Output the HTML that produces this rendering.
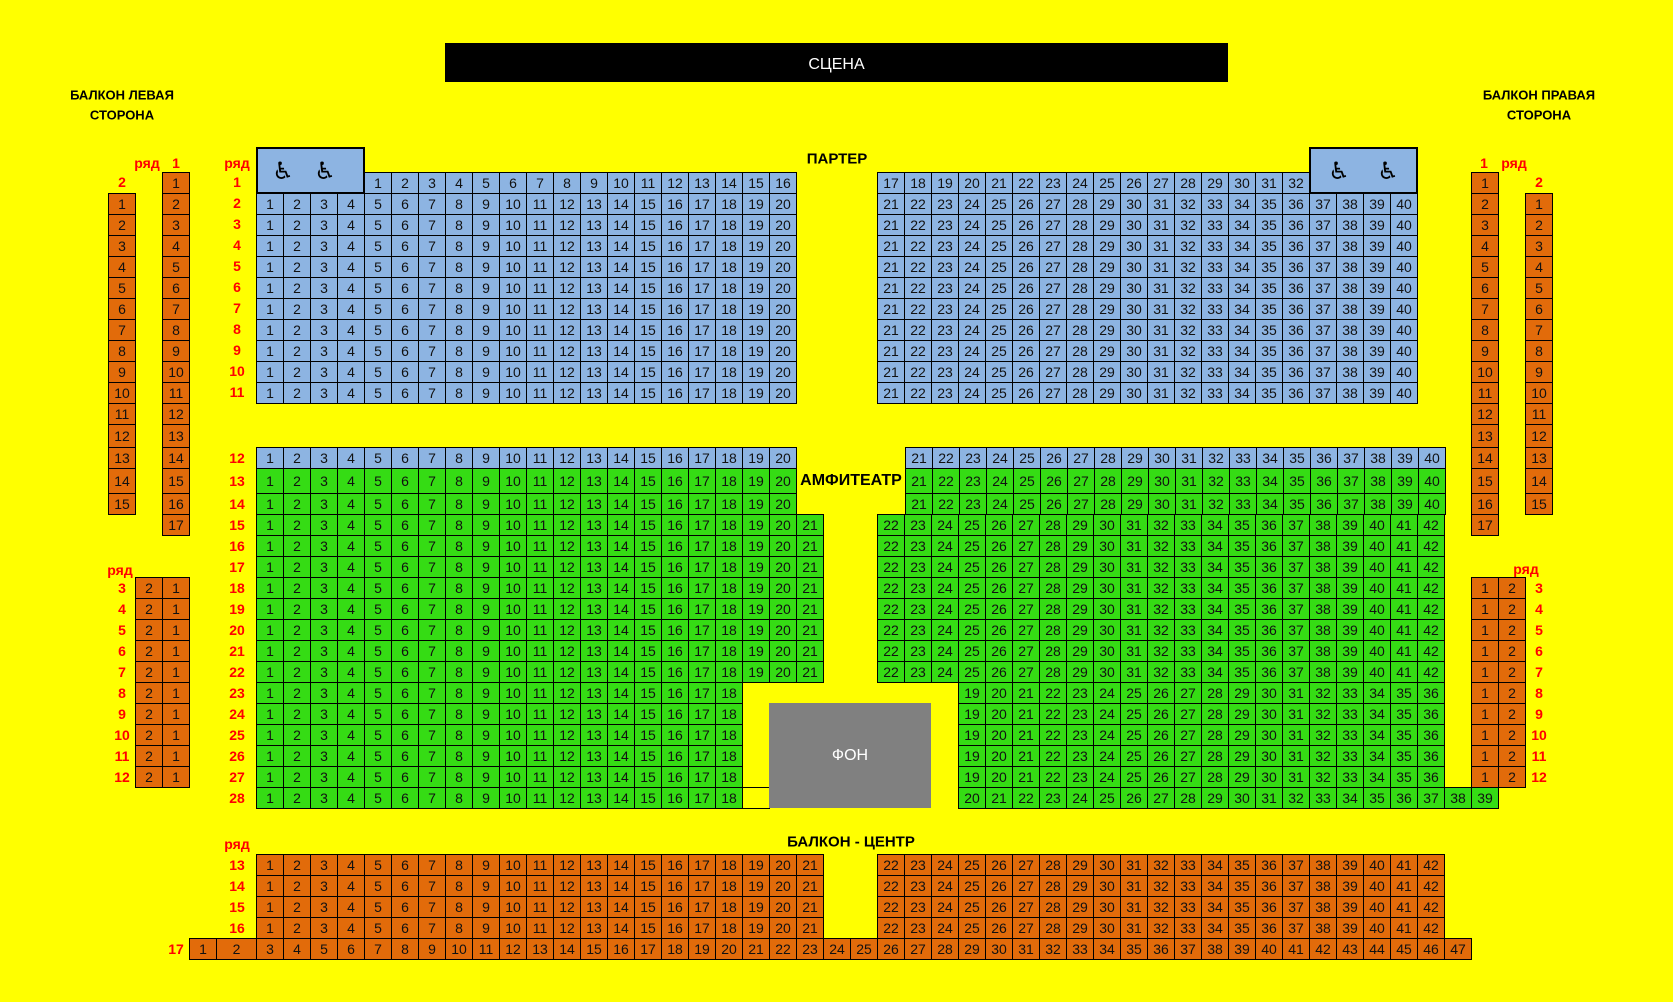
<!DOCTYPE html>
<html><head><meta charset="utf-8"><style>
body{margin:0;width:1673px;height:1002px;background:#ffff00;position:relative;overflow:hidden;font-family:"Liberation Sans",Arial,sans-serif}
.r{position:absolute;display:flex;height:22px}
.r i,.c i{display:flex;align-items:center;justify-content:center;width:28px;height:100%;margin-right:-1px;box-sizing:border-box;border:1px solid #000;font-style:normal;font-size:14px;color:#111}
.c{position:absolute;display:flex;flex-direction:column;width:28px}
.c i{height:22px;margin:0 0 -1px 0}
.c i.t{height:24px}.c i.u{height:26px}
.bl i{background:#8db4e2}.gr i{background:#35dc14}.or i{background:#e26b0a}
.l{position:absolute;transform:translate(-50%,-50%);color:#ff0000;font-weight:bold;font-size:14px;white-space:nowrap}
.h{position:absolute;transform:translate(-50%,-50%);color:#000;font-weight:bold;font-size:15px;white-space:nowrap}
.wc{position:absolute;background:#8db4e2;border:2px solid #000;box-sizing:border-box}
.wc span{position:absolute;top:50%;transform:translate(-50%,-50%);font-family:"DejaVu Sans",sans-serif;font-size:24px;color:#000;font-variant-emoji:text}
</style></head><body>
<div style="position:absolute;left:445px;top:43px;width:783px;height:39px;background:#000;color:#fff;font-size:16px;display:flex;align-items:center;justify-content:center;padding-top:4px;box-sizing:border-box">СЦЕНА</div>
<div class="h" style="left:122px;top:95px;font-size:13px">БАЛКОН ЛЕВАЯ</div>
<div class="h" style="left:122px;top:115px;font-size:13px">СТОРОНА</div>
<div class="h" style="left:1539px;top:95px;font-size:13px">БАЛКОН ПРАВАЯ</div>
<div class="h" style="left:1539px;top:115px;font-size:13px">СТОРОНА</div>
<div class="h" style="left:837px;top:159px">ПАРТЕР</div>
<div class="h" style="left:851px;top:481px;font-size:16px">АМФИТЕАТР</div>
<div class="h" style="left:851px;top:842px">БАЛКОН - ЦЕНТР</div>

<div class="wc" style="left:256px;top:147px;width:109px;height:47px"><span style="left:25px">♿&#xFE0E;</span><span style="left:67px">♿&#xFE0E;</span></div>
<div class="wc" style="left:1309px;top:147px;width:109px;height:47px"><span style="left:28px">♿&#xFE0E;</span><span style="left:77px">♿&#xFE0E;</span></div>

<!-- labels left -->
<div class="l" style="left:147px;top:163px">ряд</div><div class="l" style="left:176px;top:163px">1</div><div class="l" style="left:122px;top:182px">2</div>
<div class="l" style="left:237px;top:163px">ряд</div>
<div class="l" style="left:237px;top:182px">1</div><div class="l" style="left:237px;top:203px">2</div><div class="l" style="left:237px;top:224px">3</div><div class="l" style="left:237px;top:245px">4</div><div class="l" style="left:237px;top:266px">5</div><div class="l" style="left:237px;top:287px">6</div><div class="l" style="left:237px;top:308px">7</div><div class="l" style="left:237px;top:329px">8</div><div class="l" style="left:237px;top:350px">9</div><div class="l" style="left:237px;top:371px">10</div><div class="l" style="left:237px;top:392px">11</div>
<div class="l" style="left:237px;top:458px">12</div><div class="l" style="left:237px;top:481px">13</div><div class="l" style="left:237px;top:504px">14</div><div class="l" style="left:237px;top:525px">15</div><div class="l" style="left:237px;top:546px">16</div><div class="l" style="left:237px;top:567px">17</div><div class="l" style="left:237px;top:588px">18</div><div class="l" style="left:237px;top:609px">19</div><div class="l" style="left:237px;top:630px">20</div><div class="l" style="left:237px;top:651px">21</div><div class="l" style="left:237px;top:672px">22</div><div class="l" style="left:237px;top:693px">23</div><div class="l" style="left:237px;top:714px">24</div><div class="l" style="left:237px;top:735px">25</div><div class="l" style="left:237px;top:756px">26</div><div class="l" style="left:237px;top:777px">27</div><div class="l" style="left:237px;top:798px">28</div>
<div class="l" style="left:120px;top:570px">ряд</div>
<div class="l" style="left:122px;top:588px">3</div><div class="l" style="left:122px;top:609px">4</div><div class="l" style="left:122px;top:630px">5</div><div class="l" style="left:122px;top:651px">6</div><div class="l" style="left:122px;top:672px">7</div><div class="l" style="left:122px;top:693px">8</div><div class="l" style="left:122px;top:714px">9</div><div class="l" style="left:122px;top:735px">10</div><div class="l" style="left:122px;top:756px">11</div><div class="l" style="left:122px;top:777px">12</div>
<!-- labels right -->
<div class="l" style="left:1484px;top:163px">1</div><div class="l" style="left:1514px;top:163px">ряд</div><div class="l" style="left:1539px;top:182px">2</div>
<div class="l" style="left:1526px;top:569px">ряд</div>
<div class="l" style="left:1539px;top:588px">3</div><div class="l" style="left:1539px;top:609px">4</div><div class="l" style="left:1539px;top:630px">5</div><div class="l" style="left:1539px;top:651px">6</div><div class="l" style="left:1539px;top:672px">7</div><div class="l" style="left:1539px;top:693px">8</div><div class="l" style="left:1539px;top:714px">9</div><div class="l" style="left:1539px;top:735px">10</div><div class="l" style="left:1539px;top:756px">11</div><div class="l" style="left:1539px;top:777px">12</div>
<!-- balcony labels -->
<div class="l" style="left:237px;top:844px">ряд</div>
<div class="l" style="left:237px;top:865px">13</div><div class="l" style="left:237px;top:886px">14</div><div class="l" style="left:237px;top:907px">15</div><div class="l" style="left:237px;top:928px">16</div><div class="l" style="left:176px;top:949px">17</div>

<!-- side columns -->
<div class="c or" style="left:162px;top:172px"><i>1</i><i>2</i><i>3</i><i>4</i><i>5</i><i>6</i><i>7</i><i>8</i><i>9</i><i>10</i><i>11</i><i>12</i><i class="t">13</i><i>14</i><i class="u">15</i><i>16</i><i>17</i></div>
<div class="c or" style="left:108px;top:193px"><i>1</i><i>2</i><i>3</i><i>4</i><i>5</i><i>6</i><i>7</i><i>8</i><i>9</i><i>10</i><i>11</i><i class="t">12</i><i>13</i><i class="u">14</i><i>15</i></div>
<div class="c or" style="left:1471px;top:172px"><i>1</i><i>2</i><i>3</i><i>4</i><i>5</i><i>6</i><i>7</i><i>8</i><i>9</i><i>10</i><i>11</i><i>12</i><i class="t">13</i><i>14</i><i class="u">15</i><i>16</i><i>17</i></div>
<div class="c or" style="left:1525px;top:193px"><i>1</i><i>2</i><i>3</i><i>4</i><i>5</i><i>6</i><i>7</i><i>8</i><i>9</i><i>10</i><i>11</i><i class="t">12</i><i>13</i><i class="u">14</i><i>15</i></div>

<div class="r or" style="left:135px;top:577px"><i>2</i><i>1</i></div>
<div class="r or" style="left:135px;top:598px"><i>2</i><i>1</i></div>
<div class="r or" style="left:135px;top:619px"><i>2</i><i>1</i></div>
<div class="r or" style="left:135px;top:640px"><i>2</i><i>1</i></div>
<div class="r or" style="left:135px;top:661px"><i>2</i><i>1</i></div>
<div class="r or" style="left:135px;top:682px"><i>2</i><i>1</i></div>
<div class="r or" style="left:135px;top:703px"><i>2</i><i>1</i></div>
<div class="r or" style="left:135px;top:724px"><i>2</i><i>1</i></div>
<div class="r or" style="left:135px;top:745px"><i>2</i><i>1</i></div>
<div class="r or" style="left:135px;top:766px"><i>2</i><i>1</i></div>
<div class="r or" style="left:1471px;top:577px"><i>1</i><i>2</i></div>
<div class="r or" style="left:1471px;top:598px"><i>1</i><i>2</i></div>
<div class="r or" style="left:1471px;top:619px"><i>1</i><i>2</i></div>
<div class="r or" style="left:1471px;top:640px"><i>1</i><i>2</i></div>
<div class="r or" style="left:1471px;top:661px"><i>1</i><i>2</i></div>
<div class="r or" style="left:1471px;top:682px"><i>1</i><i>2</i></div>
<div class="r or" style="left:1471px;top:703px"><i>1</i><i>2</i></div>
<div class="r or" style="left:1471px;top:724px"><i>1</i><i>2</i></div>
<div class="r or" style="left:1471px;top:745px"><i>1</i><i>2</i></div>
<div class="r or" style="left:1471px;top:766px"><i>1</i><i>2</i></div>

<!-- partner -->
<div class="r bl" style="left:364px;top:172px"><i>1</i><i>2</i><i>3</i><i>4</i><i>5</i><i>6</i><i>7</i><i>8</i><i>9</i><i>10</i><i>11</i><i>12</i><i>13</i><i>14</i><i>15</i><i>16</i></div>
<div class="r bl" style="left:877px;top:172px"><i>17</i><i>18</i><i>19</i><i>20</i><i>21</i><i>22</i><i>23</i><i>24</i><i>25</i><i>26</i><i>27</i><i>28</i><i>29</i><i>30</i><i>31</i><i>32</i></div>
<div class="r bl" style="left:256px;top:193px"><i>1</i><i>2</i><i>3</i><i>4</i><i>5</i><i>6</i><i>7</i><i>8</i><i>9</i><i>10</i><i>11</i><i>12</i><i>13</i><i>14</i><i>15</i><i>16</i><i>17</i><i>18</i><i>19</i><i>20</i></div>
<div class="r bl" style="left:256px;top:214px"><i>1</i><i>2</i><i>3</i><i>4</i><i>5</i><i>6</i><i>7</i><i>8</i><i>9</i><i>10</i><i>11</i><i>12</i><i>13</i><i>14</i><i>15</i><i>16</i><i>17</i><i>18</i><i>19</i><i>20</i></div>
<div class="r bl" style="left:256px;top:235px"><i>1</i><i>2</i><i>3</i><i>4</i><i>5</i><i>6</i><i>7</i><i>8</i><i>9</i><i>10</i><i>11</i><i>12</i><i>13</i><i>14</i><i>15</i><i>16</i><i>17</i><i>18</i><i>19</i><i>20</i></div>
<div class="r bl" style="left:256px;top:256px"><i>1</i><i>2</i><i>3</i><i>4</i><i>5</i><i>6</i><i>7</i><i>8</i><i>9</i><i>10</i><i>11</i><i>12</i><i>13</i><i>14</i><i>15</i><i>16</i><i>17</i><i>18</i><i>19</i><i>20</i></div>
<div class="r bl" style="left:256px;top:277px"><i>1</i><i>2</i><i>3</i><i>4</i><i>5</i><i>6</i><i>7</i><i>8</i><i>9</i><i>10</i><i>11</i><i>12</i><i>13</i><i>14</i><i>15</i><i>16</i><i>17</i><i>18</i><i>19</i><i>20</i></div>
<div class="r bl" style="left:256px;top:298px"><i>1</i><i>2</i><i>3</i><i>4</i><i>5</i><i>6</i><i>7</i><i>8</i><i>9</i><i>10</i><i>11</i><i>12</i><i>13</i><i>14</i><i>15</i><i>16</i><i>17</i><i>18</i><i>19</i><i>20</i></div>
<div class="r bl" style="left:256px;top:319px"><i>1</i><i>2</i><i>3</i><i>4</i><i>5</i><i>6</i><i>7</i><i>8</i><i>9</i><i>10</i><i>11</i><i>12</i><i>13</i><i>14</i><i>15</i><i>16</i><i>17</i><i>18</i><i>19</i><i>20</i></div>
<div class="r bl" style="left:256px;top:340px"><i>1</i><i>2</i><i>3</i><i>4</i><i>5</i><i>6</i><i>7</i><i>8</i><i>9</i><i>10</i><i>11</i><i>12</i><i>13</i><i>14</i><i>15</i><i>16</i><i>17</i><i>18</i><i>19</i><i>20</i></div>
<div class="r bl" style="left:256px;top:361px"><i>1</i><i>2</i><i>3</i><i>4</i><i>5</i><i>6</i><i>7</i><i>8</i><i>9</i><i>10</i><i>11</i><i>12</i><i>13</i><i>14</i><i>15</i><i>16</i><i>17</i><i>18</i><i>19</i><i>20</i></div>
<div class="r bl" style="left:256px;top:382px"><i>1</i><i>2</i><i>3</i><i>4</i><i>5</i><i>6</i><i>7</i><i>8</i><i>9</i><i>10</i><i>11</i><i>12</i><i>13</i><i>14</i><i>15</i><i>16</i><i>17</i><i>18</i><i>19</i><i>20</i></div>
<div class="r bl" style="left:877px;top:193px"><i>21</i><i>22</i><i>23</i><i>24</i><i>25</i><i>26</i><i>27</i><i>28</i><i>29</i><i>30</i><i>31</i><i>32</i><i>33</i><i>34</i><i>35</i><i>36</i><i>37</i><i>38</i><i>39</i><i>40</i></div>
<div class="r bl" style="left:877px;top:214px"><i>21</i><i>22</i><i>23</i><i>24</i><i>25</i><i>26</i><i>27</i><i>28</i><i>29</i><i>30</i><i>31</i><i>32</i><i>33</i><i>34</i><i>35</i><i>36</i><i>37</i><i>38</i><i>39</i><i>40</i></div>
<div class="r bl" style="left:877px;top:235px"><i>21</i><i>22</i><i>23</i><i>24</i><i>25</i><i>26</i><i>27</i><i>28</i><i>29</i><i>30</i><i>31</i><i>32</i><i>33</i><i>34</i><i>35</i><i>36</i><i>37</i><i>38</i><i>39</i><i>40</i></div>
<div class="r bl" style="left:877px;top:256px"><i>21</i><i>22</i><i>23</i><i>24</i><i>25</i><i>26</i><i>27</i><i>28</i><i>29</i><i>30</i><i>31</i><i>32</i><i>33</i><i>34</i><i>35</i><i>36</i><i>37</i><i>38</i><i>39</i><i>40</i></div>
<div class="r bl" style="left:877px;top:277px"><i>21</i><i>22</i><i>23</i><i>24</i><i>25</i><i>26</i><i>27</i><i>28</i><i>29</i><i>30</i><i>31</i><i>32</i><i>33</i><i>34</i><i>35</i><i>36</i><i>37</i><i>38</i><i>39</i><i>40</i></div>
<div class="r bl" style="left:877px;top:298px"><i>21</i><i>22</i><i>23</i><i>24</i><i>25</i><i>26</i><i>27</i><i>28</i><i>29</i><i>30</i><i>31</i><i>32</i><i>33</i><i>34</i><i>35</i><i>36</i><i>37</i><i>38</i><i>39</i><i>40</i></div>
<div class="r bl" style="left:877px;top:319px"><i>21</i><i>22</i><i>23</i><i>24</i><i>25</i><i>26</i><i>27</i><i>28</i><i>29</i><i>30</i><i>31</i><i>32</i><i>33</i><i>34</i><i>35</i><i>36</i><i>37</i><i>38</i><i>39</i><i>40</i></div>
<div class="r bl" style="left:877px;top:340px"><i>21</i><i>22</i><i>23</i><i>24</i><i>25</i><i>26</i><i>27</i><i>28</i><i>29</i><i>30</i><i>31</i><i>32</i><i>33</i><i>34</i><i>35</i><i>36</i><i>37</i><i>38</i><i>39</i><i>40</i></div>
<div class="r bl" style="left:877px;top:361px"><i>21</i><i>22</i><i>23</i><i>24</i><i>25</i><i>26</i><i>27</i><i>28</i><i>29</i><i>30</i><i>31</i><i>32</i><i>33</i><i>34</i><i>35</i><i>36</i><i>37</i><i>38</i><i>39</i><i>40</i></div>
<div class="r bl" style="left:877px;top:382px"><i>21</i><i>22</i><i>23</i><i>24</i><i>25</i><i>26</i><i>27</i><i>28</i><i>29</i><i>30</i><i>31</i><i>32</i><i>33</i><i>34</i><i>35</i><i>36</i><i>37</i><i>38</i><i>39</i><i>40</i></div>

<!-- amphitheatre -->
<div class="r bl" style="left:256px;top:447px"><i>1</i><i>2</i><i>3</i><i>4</i><i>5</i><i>6</i><i>7</i><i>8</i><i>9</i><i>10</i><i>11</i><i>12</i><i>13</i><i>14</i><i>15</i><i>16</i><i>17</i><i>18</i><i>19</i><i>20</i></div>
<div class="r bl" style="left:905px;top:447px"><i>21</i><i>22</i><i>23</i><i>24</i><i>25</i><i>26</i><i>27</i><i>28</i><i>29</i><i>30</i><i>31</i><i>32</i><i>33</i><i>34</i><i>35</i><i>36</i><i>37</i><i>38</i><i>39</i><i>40</i></div>
<div class="r gr" style="left:256px;top:468px;height:26px"><i>1</i><i>2</i><i>3</i><i>4</i><i>5</i><i>6</i><i>7</i><i>8</i><i>9</i><i>10</i><i>11</i><i>12</i><i>13</i><i>14</i><i>15</i><i>16</i><i>17</i><i>18</i><i>19</i><i>20</i></div>
<div class="r gr" style="left:905px;top:468px;height:26px"><i>21</i><i>22</i><i>23</i><i>24</i><i>25</i><i>26</i><i>27</i><i>28</i><i>29</i><i>30</i><i>31</i><i>32</i><i>33</i><i>34</i><i>35</i><i>36</i><i>37</i><i>38</i><i>39</i><i>40</i></div>
<div class="r gr" style="left:256px;top:493px"><i>1</i><i>2</i><i>3</i><i>4</i><i>5</i><i>6</i><i>7</i><i>8</i><i>9</i><i>10</i><i>11</i><i>12</i><i>13</i><i>14</i><i>15</i><i>16</i><i>17</i><i>18</i><i>19</i><i>20</i></div>
<div class="r gr" style="left:905px;top:493px"><i>21</i><i>22</i><i>23</i><i>24</i><i>25</i><i>26</i><i>27</i><i>28</i><i>29</i><i>30</i><i>31</i><i>32</i><i>33</i><i>34</i><i>35</i><i>36</i><i>37</i><i>38</i><i>39</i><i>40</i></div>
<div class="r gr" style="left:256px;top:514px"><i>1</i><i>2</i><i>3</i><i>4</i><i>5</i><i>6</i><i>7</i><i>8</i><i>9</i><i>10</i><i>11</i><i>12</i><i>13</i><i>14</i><i>15</i><i>16</i><i>17</i><i>18</i><i>19</i><i>20</i><i>21</i></div>
<div class="r gr" style="left:256px;top:535px"><i>1</i><i>2</i><i>3</i><i>4</i><i>5</i><i>6</i><i>7</i><i>8</i><i>9</i><i>10</i><i>11</i><i>12</i><i>13</i><i>14</i><i>15</i><i>16</i><i>17</i><i>18</i><i>19</i><i>20</i><i>21</i></div>
<div class="r gr" style="left:256px;top:556px"><i>1</i><i>2</i><i>3</i><i>4</i><i>5</i><i>6</i><i>7</i><i>8</i><i>9</i><i>10</i><i>11</i><i>12</i><i>13</i><i>14</i><i>15</i><i>16</i><i>17</i><i>18</i><i>19</i><i>20</i><i>21</i></div>
<div class="r gr" style="left:256px;top:577px"><i>1</i><i>2</i><i>3</i><i>4</i><i>5</i><i>6</i><i>7</i><i>8</i><i>9</i><i>10</i><i>11</i><i>12</i><i>13</i><i>14</i><i>15</i><i>16</i><i>17</i><i>18</i><i>19</i><i>20</i><i>21</i></div>
<div class="r gr" style="left:256px;top:598px"><i>1</i><i>2</i><i>3</i><i>4</i><i>5</i><i>6</i><i>7</i><i>8</i><i>9</i><i>10</i><i>11</i><i>12</i><i>13</i><i>14</i><i>15</i><i>16</i><i>17</i><i>18</i><i>19</i><i>20</i><i>21</i></div>
<div class="r gr" style="left:256px;top:619px"><i>1</i><i>2</i><i>3</i><i>4</i><i>5</i><i>6</i><i>7</i><i>8</i><i>9</i><i>10</i><i>11</i><i>12</i><i>13</i><i>14</i><i>15</i><i>16</i><i>17</i><i>18</i><i>19</i><i>20</i><i>21</i></div>
<div class="r gr" style="left:256px;top:640px"><i>1</i><i>2</i><i>3</i><i>4</i><i>5</i><i>6</i><i>7</i><i>8</i><i>9</i><i>10</i><i>11</i><i>12</i><i>13</i><i>14</i><i>15</i><i>16</i><i>17</i><i>18</i><i>19</i><i>20</i><i>21</i></div>
<div class="r gr" style="left:256px;top:661px"><i>1</i><i>2</i><i>3</i><i>4</i><i>5</i><i>6</i><i>7</i><i>8</i><i>9</i><i>10</i><i>11</i><i>12</i><i>13</i><i>14</i><i>15</i><i>16</i><i>17</i><i>18</i><i>19</i><i>20</i><i>21</i></div>
<div class="r gr" style="left:877px;top:514px"><i>22</i><i>23</i><i>24</i><i>25</i><i>26</i><i>27</i><i>28</i><i>29</i><i>30</i><i>31</i><i>32</i><i>33</i><i>34</i><i>35</i><i>36</i><i>37</i><i>38</i><i>39</i><i>40</i><i>41</i><i>42</i></div>
<div class="r gr" style="left:877px;top:535px"><i>22</i><i>23</i><i>24</i><i>25</i><i>26</i><i>27</i><i>28</i><i>29</i><i>30</i><i>31</i><i>32</i><i>33</i><i>34</i><i>35</i><i>36</i><i>37</i><i>38</i><i>39</i><i>40</i><i>41</i><i>42</i></div>
<div class="r gr" style="left:877px;top:556px"><i>22</i><i>23</i><i>24</i><i>25</i><i>26</i><i>27</i><i>28</i><i>29</i><i>30</i><i>31</i><i>32</i><i>33</i><i>34</i><i>35</i><i>36</i><i>37</i><i>38</i><i>39</i><i>40</i><i>41</i><i>42</i></div>
<div class="r gr" style="left:877px;top:577px"><i>22</i><i>23</i><i>24</i><i>25</i><i>26</i><i>27</i><i>28</i><i>29</i><i>30</i><i>31</i><i>32</i><i>33</i><i>34</i><i>35</i><i>36</i><i>37</i><i>38</i><i>39</i><i>40</i><i>41</i><i>42</i></div>
<div class="r gr" style="left:877px;top:598px"><i>22</i><i>23</i><i>24</i><i>25</i><i>26</i><i>27</i><i>28</i><i>29</i><i>30</i><i>31</i><i>32</i><i>33</i><i>34</i><i>35</i><i>36</i><i>37</i><i>38</i><i>39</i><i>40</i><i>41</i><i>42</i></div>
<div class="r gr" style="left:877px;top:619px"><i>22</i><i>23</i><i>24</i><i>25</i><i>26</i><i>27</i><i>28</i><i>29</i><i>30</i><i>31</i><i>32</i><i>33</i><i>34</i><i>35</i><i>36</i><i>37</i><i>38</i><i>39</i><i>40</i><i>41</i><i>42</i></div>
<div class="r gr" style="left:877px;top:640px"><i>22</i><i>23</i><i>24</i><i>25</i><i>26</i><i>27</i><i>28</i><i>29</i><i>30</i><i>31</i><i>32</i><i>33</i><i>34</i><i>35</i><i>36</i><i>37</i><i>38</i><i>39</i><i>40</i><i>41</i><i>42</i></div>
<div class="r gr" style="left:877px;top:661px"><i>22</i><i>23</i><i>24</i><i>25</i><i>26</i><i>27</i><i>28</i><i>29</i><i>30</i><i>31</i><i>32</i><i>33</i><i>34</i><i>35</i><i>36</i><i>37</i><i>38</i><i>39</i><i>40</i><i>41</i><i>42</i></div>
<div class="r gr" style="left:256px;top:682px"><i>1</i><i>2</i><i>3</i><i>4</i><i>5</i><i>6</i><i>7</i><i>8</i><i>9</i><i>10</i><i>11</i><i>12</i><i>13</i><i>14</i><i>15</i><i>16</i><i>17</i><i>18</i></div>
<div class="r gr" style="left:256px;top:703px"><i>1</i><i>2</i><i>3</i><i>4</i><i>5</i><i>6</i><i>7</i><i>8</i><i>9</i><i>10</i><i>11</i><i>12</i><i>13</i><i>14</i><i>15</i><i>16</i><i>17</i><i>18</i></div>
<div class="r gr" style="left:256px;top:724px"><i>1</i><i>2</i><i>3</i><i>4</i><i>5</i><i>6</i><i>7</i><i>8</i><i>9</i><i>10</i><i>11</i><i>12</i><i>13</i><i>14</i><i>15</i><i>16</i><i>17</i><i>18</i></div>
<div class="r gr" style="left:256px;top:745px"><i>1</i><i>2</i><i>3</i><i>4</i><i>5</i><i>6</i><i>7</i><i>8</i><i>9</i><i>10</i><i>11</i><i>12</i><i>13</i><i>14</i><i>15</i><i>16</i><i>17</i><i>18</i></div>
<div class="r gr" style="left:256px;top:766px"><i>1</i><i>2</i><i>3</i><i>4</i><i>5</i><i>6</i><i>7</i><i>8</i><i>9</i><i>10</i><i>11</i><i>12</i><i>13</i><i>14</i><i>15</i><i>16</i><i>17</i><i>18</i></div>
<div class="r gr" style="left:256px;top:787px"><i>1</i><i>2</i><i>3</i><i>4</i><i>5</i><i>6</i><i>7</i><i>8</i><i>9</i><i>10</i><i>11</i><i>12</i><i>13</i><i>14</i><i>15</i><i>16</i><i>17</i><i>18</i><i style="background:#ffff00"></i></div>
<div class="r gr" style="left:958px;top:682px"><i>19</i><i>20</i><i>21</i><i>22</i><i>23</i><i>24</i><i>25</i><i>26</i><i>27</i><i>28</i><i>29</i><i>30</i><i>31</i><i>32</i><i>33</i><i>34</i><i>35</i><i>36</i></div>
<div class="r gr" style="left:958px;top:703px"><i>19</i><i>20</i><i>21</i><i>22</i><i>23</i><i>24</i><i>25</i><i>26</i><i>27</i><i>28</i><i>29</i><i>30</i><i>31</i><i>32</i><i>33</i><i>34</i><i>35</i><i>36</i></div>
<div class="r gr" style="left:958px;top:724px"><i>19</i><i>20</i><i>21</i><i>22</i><i>23</i><i>24</i><i>25</i><i>26</i><i>27</i><i>28</i><i>29</i><i>30</i><i>31</i><i>32</i><i>33</i><i>34</i><i>35</i><i>36</i></div>
<div class="r gr" style="left:958px;top:745px"><i>19</i><i>20</i><i>21</i><i>22</i><i>23</i><i>24</i><i>25</i><i>26</i><i>27</i><i>28</i><i>29</i><i>30</i><i>31</i><i>32</i><i>33</i><i>34</i><i>35</i><i>36</i></div>
<div class="r gr" style="left:958px;top:766px"><i>19</i><i>20</i><i>21</i><i>22</i><i>23</i><i>24</i><i>25</i><i>26</i><i>27</i><i>28</i><i>29</i><i>30</i><i>31</i><i>32</i><i>33</i><i>34</i><i>35</i><i>36</i></div>
<div class="r gr" style="left:958px;top:787px"><i>20</i><i>21</i><i>22</i><i>23</i><i>24</i><i>25</i><i>26</i><i>27</i><i>28</i><i>29</i><i>30</i><i>31</i><i>32</i><i>33</i><i>34</i><i>35</i><i>36</i><i>37</i><i>38</i><i>39</i></div>
<div style="position:absolute;left:769px;top:703px;width:162px;height:105px;background:#808080;color:#fff;font-size:16px;display:flex;align-items:center;justify-content:center">ФОН</div>

<!-- balcony centre -->
<div class="r or" style="left:256px;top:854px"><i>1</i><i>2</i><i>3</i><i>4</i><i>5</i><i>6</i><i>7</i><i>8</i><i>9</i><i>10</i><i>11</i><i>12</i><i>13</i><i>14</i><i>15</i><i>16</i><i>17</i><i>18</i><i>19</i><i>20</i><i>21</i></div>
<div class="r or" style="left:256px;top:875px"><i>1</i><i>2</i><i>3</i><i>4</i><i>5</i><i>6</i><i>7</i><i>8</i><i>9</i><i>10</i><i>11</i><i>12</i><i>13</i><i>14</i><i>15</i><i>16</i><i>17</i><i>18</i><i>19</i><i>20</i><i>21</i></div>
<div class="r or" style="left:256px;top:896px"><i>1</i><i>2</i><i>3</i><i>4</i><i>5</i><i>6</i><i>7</i><i>8</i><i>9</i><i>10</i><i>11</i><i>12</i><i>13</i><i>14</i><i>15</i><i>16</i><i>17</i><i>18</i><i>19</i><i>20</i><i>21</i></div>
<div class="r or" style="left:256px;top:917px"><i>1</i><i>2</i><i>3</i><i>4</i><i>5</i><i>6</i><i>7</i><i>8</i><i>9</i><i>10</i><i>11</i><i>12</i><i>13</i><i>14</i><i>15</i><i>16</i><i>17</i><i>18</i><i>19</i><i>20</i><i>21</i></div>
<div class="r or" style="left:877px;top:854px"><i>22</i><i>23</i><i>24</i><i>25</i><i>26</i><i>27</i><i>28</i><i>29</i><i>30</i><i>31</i><i>32</i><i>33</i><i>34</i><i>35</i><i>36</i><i>37</i><i>38</i><i>39</i><i>40</i><i>41</i><i>42</i></div>
<div class="r or" style="left:877px;top:875px"><i>22</i><i>23</i><i>24</i><i>25</i><i>26</i><i>27</i><i>28</i><i>29</i><i>30</i><i>31</i><i>32</i><i>33</i><i>34</i><i>35</i><i>36</i><i>37</i><i>38</i><i>39</i><i>40</i><i>41</i><i>42</i></div>
<div class="r or" style="left:877px;top:896px"><i>22</i><i>23</i><i>24</i><i>25</i><i>26</i><i>27</i><i>28</i><i>29</i><i>30</i><i>31</i><i>32</i><i>33</i><i>34</i><i>35</i><i>36</i><i>37</i><i>38</i><i>39</i><i>40</i><i>41</i><i>42</i></div>
<div class="r or" style="left:877px;top:917px"><i>22</i><i>23</i><i>24</i><i>25</i><i>26</i><i>27</i><i>28</i><i>29</i><i>30</i><i>31</i><i>32</i><i>33</i><i>34</i><i>35</i><i>36</i><i>37</i><i>38</i><i>39</i><i>40</i><i>41</i><i>42</i></div>
<div class="r or" style="left:189px;top:938px"><i>1</i><i style="width:41px">2</i><i>3</i><i>4</i><i>5</i><i>6</i><i>7</i><i>8</i><i>9</i><i>10</i><i>11</i><i>12</i><i>13</i><i>14</i><i>15</i><i>16</i><i>17</i><i>18</i><i>19</i><i>20</i><i>21</i><i>22</i><i>23</i><i>24</i><i>25</i><i>26</i><i>27</i><i>28</i><i>29</i><i>30</i><i>31</i><i>32</i><i>33</i><i>34</i><i>35</i><i>36</i><i>37</i><i>38</i><i>39</i><i>40</i><i>41</i><i>42</i><i>43</i><i>44</i><i>45</i><i>46</i><i>47</i></div>
</body></html>
